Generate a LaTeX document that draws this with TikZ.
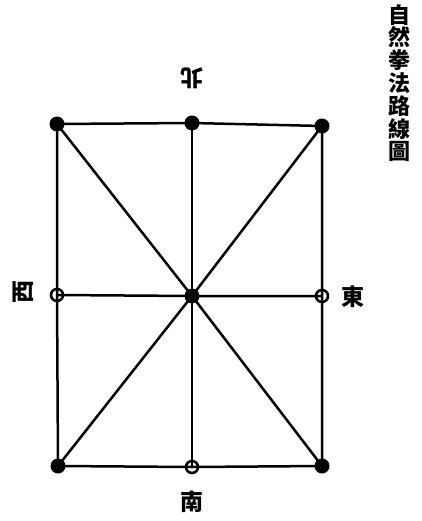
\documentclass[tikz,border=0pt]{standalone}
\usepackage{fontspec}
\newfontfamily\cjk{Noto Sans CJK TC}
\begin{document}
\begin{tikzpicture}[x=1pt, y=-1pt,
    path1/.style={line width=2.5pt, color=black},
    blackdot/.style={circle, fill=black, minimum size=15pt, inner sep=0pt},
    opendot/.style={circle, draw=black, line width=2.6pt, minimum size=12pt, inner sep=0pt},
    dirlabel/.style={font=\cjk\bfseries\fontsize{23}{23}\selectfont, inner sep=0pt}]
    \useasboundingbox (0,0) rectangle (422,521);
    % Points
    \coordinate (tl) at (57,124);
    \coordinate (t)  at (192,123);
    \coordinate (tr) at (322,126);
    \coordinate (l)  at (57,295);
    \coordinate (c)  at (192,296);
    \coordinate (r)  at (322,296);
    \coordinate (bl) at (58,466);
    \coordinate (b)  at (192,467);
    \coordinate (br) at (322,466);
    % Frame
    \draw[path1] (tl) -- (t) -- (tr) -- (r) -- (br) -- (b) -- (bl) -- (l) -- cycle;
    % Cross lines
    \draw[path1] (tl) -- (c) -- (br);
    \draw[path1] (tr) -- (c) -- (bl);
    \draw[path1] (t) -- (c) -- (b);
    \draw[path1] (l) -- (c) -- (r);
    % Dots
    \node[blackdot] (ntl) at (tl) {};
    \node[blackdot] (nt)  at (t)  {};
    \node[blackdot] (ntr) at (tr) {};
    \node[blackdot] (nc)  at (c)  {};
    \node[blackdot] (nbl) at (bl) {};
    \node[blackdot] (nbr) at (br) {};
    \node[opendot]  (nl)  at (l)  {};
    \node[opendot]  (nr)  at (r)  {};
    \node[opendot]  (nb)  at (b)  {};
    % Directions
    \node[dirlabel, rotate=180] (north) at (192,78)  {北};
    \node[dirlabel, rotate=90]  (west)  at (23,292)  {西};
    \node[dirlabel]             (east)  at (353,297) {東};
    \node[dirlabel]             (south) at (192,502) {南};
    % Title
    \node[font=\cjk\bfseries\fontsize{22}{22.8}\selectfont, align=center, anchor=north, inner sep=0pt]
        (title) at (399,4) {自\\然\\拳\\法\\路\\線\\圖};
\end{tikzpicture}
\end{document}
